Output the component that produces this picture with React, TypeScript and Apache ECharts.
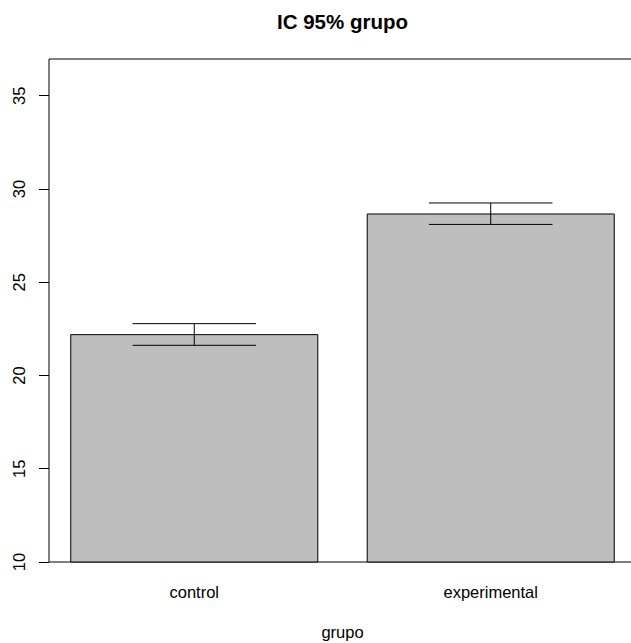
import React, { useEffect, useRef } from "react";
import * as echarts from "echarts";

const categories = ["control", "experimental"];
const means = [22.19, 28.66];
const lower = [21.62, 28.1];
const upper = [22.78, 29.25];
const yTicks = [10, 15, 20, 25, 30, 35];

const FONT = "'Liberation Sans', Arial, Helvetica, sans-serif";
// R barplot layout: width 1, space 0.2
const SPACE = 0.2;
const centerOf = (i: number) => SPACE + i * (1 + SPACE) + 0.5;

export default function App() {
  const ref = useRef<HTMLDivElement>(null);
  useEffect(() => {
    if (!ref.current) return;
    const chart = echarts.init(ref.current, null, { renderer: "svg" });
    const xMinRaw = SPACE;
    const xMaxRaw = centerOf(categories.length - 1) + 0.5;
    const pad = (xMaxRaw - xMinRaw) * 0.04;
    const barData = means.map((m, i) => [centerOf(i), m]);
    const errData = means.map((m, i) => [centerOf(i), lower[i], upper[i]]);
    const centers = categories.map((_, i) => centerOf(i));
    chart.setOption({
      animation: false,
      backgroundColor: "#ffffff",
      title: {
        text: "IC 95% grupo",
        left: 337.5,
        top: 6,
        textAlign: "center",
        textStyle: { fontFamily: FONT, fontSize: 20.5, fontWeight: "bold", color: "#000" },
      },
      grid: {
        left: 49,
        top: 59,
        width: 587,
        height: 503,
        outerBoundsMode: "none",
        containLabel: false,
        show: true,
        borderColor: "#000",
        borderWidth: 1,
        backgroundColor: "transparent",
      },
      xAxis: {
        type: "value",
        min: xMinRaw - pad,
        max: xMaxRaw + pad,
        name: "grupo",
        nameLocation: "middle",
        nameGap: 61,
        nameTextStyle: { fontFamily: FONT, fontSize: 16.5, color: "#000" },
        axisLine: { show: false },
        axisTick: { show: false },
        splitLine: { show: false },
        axisLabel: {
          customValues: centers,
          margin: 21,
          fontFamily: FONT,
          fontSize: 16.5,
          color: "#000",
          formatter: (v: number) => {
            const idx = centers.findIndex((c) => Math.abs(c - v) < 1e-6);
            return idx >= 0 ? categories[idx] : "";
          },
        },
      },
      yAxis: {
        type: "value",
        min: 10,
        max: 36.97,
        interval: 5,
        axisLine: { show: false },
        axisTick: { show: true, customValues: yTicks, length: 10, lineStyle: { color: "#000", width: 1 } },
        splitLine: { show: false },
        axisLabel: {
          customValues: yTicks,
          rotate: 90,
          margin: 22,
          fontFamily: FONT,
          fontSize: 16.5,
          color: "#000",
        },
      },
      series: [
        {
          type: "custom",
          data: barData,
          renderItem: (params: any, api: any) => {
            const x = api.value(0);
            const y = api.value(1);
            const p0 = api.coord([x - 0.5, y]);
            const p1 = api.coord([x + 0.5, 10]);
            return {
              type: "rect",
              shape: { x: p0[0], y: p0[1], width: p1[0] - p0[0], height: p1[1] - p0[1] },
              style: { fill: "#bebebe", stroke: "#000", lineWidth: 1 },
            };
          },
        },
        {
          type: "custom",
          data: errData,
          renderItem: (params: any, api: any) => {
            const x = api.value(0);
            const lo = api.value(1);
            const hi = api.value(2);
            const a = api.coord([x, lo]);
            const b = api.coord([x, hi]);
            const l = api.coord([x - 0.25, lo]);
            const r = api.coord([x + 0.25, lo]);
            const st = { stroke: "#000", lineWidth: 1 };
            return {
              type: "group",
              children: [
                { type: "line", shape: { x1: a[0], y1: a[1], x2: b[0], y2: b[1] }, style: st },
                { type: "line", shape: { x1: l[0], y1: a[1], x2: r[0], y2: a[1] }, style: st },
                { type: "line", shape: { x1: l[0], y1: b[1], x2: r[0], y2: b[1] }, style: st },
              ],
            };
          },
        },
      ],
    });
    return () => chart.dispose();
  }, []);
  return (
    <div
      ref={ref}
      style={{ position: "fixed", left: 0, top: 0, width: 631, height: 643, background: "#fff" }}
    />
  );
}
